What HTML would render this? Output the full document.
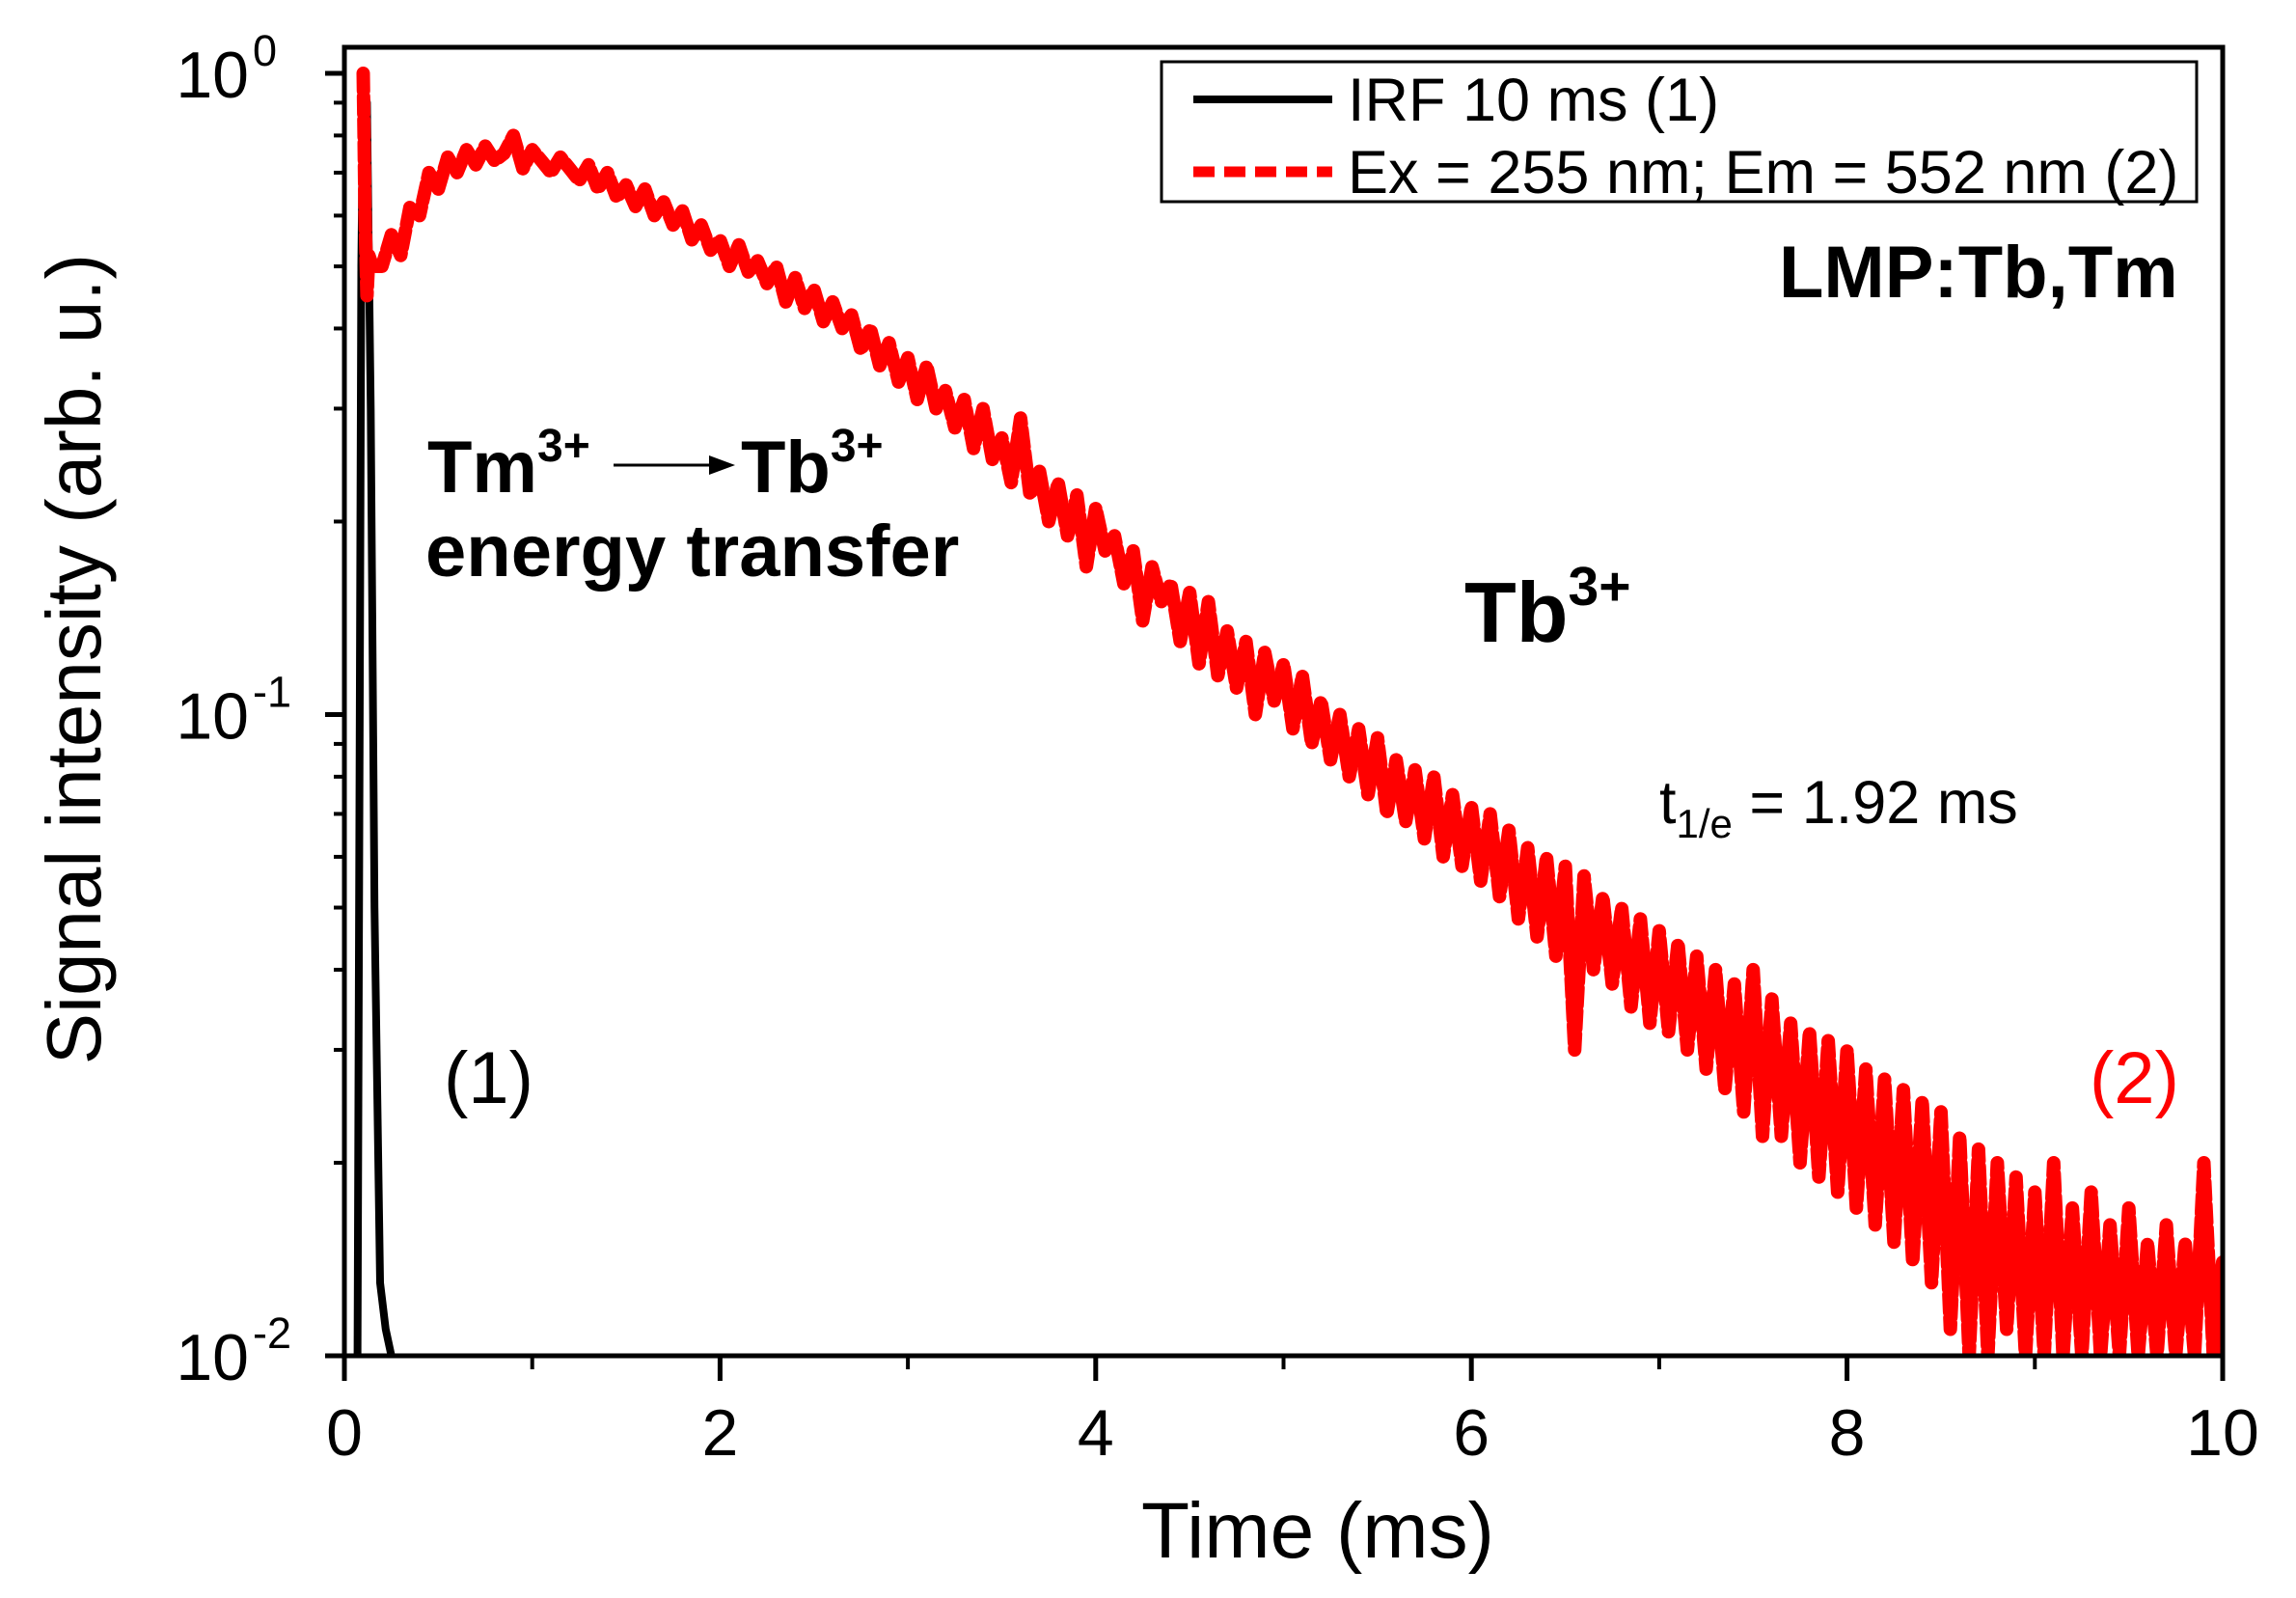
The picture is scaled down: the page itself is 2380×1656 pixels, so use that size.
<!DOCTYPE html>
<html><head><meta charset="utf-8"><style>
html,body{margin:0;padding:0;background:#fff;}
svg{display:block;font-family:"Liberation Sans",Arial,sans-serif;}
</style></head><body>
<svg id="chart" width="2380" height="1656" viewBox="0 0 2380 1656" xmlns="http://www.w3.org/2000/svg">
<g id="marks"></g>
<g id="axes"></g>
<text x="83" y="683" font-size="80" text-anchor="middle" transform="rotate(-90 83 683)" dominant-baseline="middle">Signal intensity (arb. u.)</text>
<text x="1366" y="1614" font-size="82" text-anchor="middle">Time (ms)</text>
<g>
<rect x="1204" y="64" width="1073" height="145" fill="#fff" stroke="#000" stroke-width="3"/>
<line x1="1237" y1="103" x2="1381" y2="103" stroke="#000" stroke-width="8"/>
<text x="1397" y="125" font-size="63">IRF 10 ms (1)</text>
<line x1="1237" y1="178" x2="1381" y2="178" stroke="#f00" stroke-width="11" stroke-dasharray="22 10"/>
<text x="1397" y="200" font-size="63">Ex = 255 nm; Em = 552 nm (2)</text>
</g>
<text x="1844" y="308" font-size="76" font-weight="bold">LMP:Tb,Tm</text>
<g>
<text x="443" y="510" font-size="76" font-weight="bold">Tm<tspan dy="-32" font-size="48">3+</tspan></text>
<line x1="636" y1="482" x2="738" y2="482" stroke="#000" stroke-width="3"/>
<polygon points="735,472 762,482 735,492" fill="#000"/>
<text x="768" y="510" font-size="76" font-weight="bold">Tb<tspan dy="-32" font-size="48">3+</tspan></text>
<text x="441" y="597" font-size="76" font-weight="bold">energy transfer</text>
</g>
<text x="1518" y="665" font-size="88" font-weight="bold">Tb<tspan dy="-38" font-size="57">3+</tspan></text>
<text x="1720" y="853" font-size="63">t<tspan dy="15" font-size="42">1/e</tspan><tspan dy="-15"> = 1.92 ms</tspan></text>
<text x="460" y="1143" font-size="76">(1)</text>
<text x="2166" y="1143" font-size="76" fill="#f00">(2)</text>
</svg>
<script>
const xTicks = [0, 2, 4, 6, 8, 10];
const xMinor = [1, 3, 5, 7, 9];
const yDecades = [0, -1, -2];
const irfT = [0.07, 0.09, 0.10, 0.12, 0.14, 0.16, 0.19, 0.22, 0.25];
const irfV = [0.01, 0.5, 0.95, 0.9, 0.3, 0.05, 0.013, 0.011, 0.01];
const spikeT = [0.10, 0.105, 0.11, 0.12, 0.13, 0.15];
const spikeV = [1.0, 0.8, 0.6, 0.45, 0.52, 0.50];
const sigT0 = 0.15, sigDt = 0.05;
const sigV = [
0.50,0.56,0.52,0.62,0.60,0.70,0.66,0.74,0.70,0.76,
0.72,0.77,0.73,0.75,0.80,0.71,0.76,0.73,0.70,0.74,
0.71,0.68,0.72,0.66,0.70,0.64,0.67,0.62,0.66,0.60,
0.63,0.58,0.61,0.55,0.58,0.53,0.55,0.50,0.54,0.49,
0.51,0.47,0.50,0.44,0.48,0.43,0.46,0.41,0.44,0.40,
0.42,0.37,0.40,0.35,0.38,0.33,0.36,0.31,0.35,0.30,
0.32,0.28,0.31,0.26,0.30,0.25,0.27,0.23,0.29,0.22,
0.24,0.20,0.23,0.19,0.22,0.17,0.21,0.18,0.19,0.16,
0.18,0.14,0.17,0.15,0.16,0.13,0.155,0.12,0.15,0.115,
0.135,0.11,0.13,0.10,0.125,0.105,0.12,0.095,0.115,0.09,
0.105,0.085,0.10,0.08,0.095,0.075,0.092,0.07,0.085,0.068,
0.082,0.064,0.08,0.06,0.075,0.058,0.072,0.055,0.07,0.052,
0.066,0.048,0.062,0.045,0.06,0.042,0.058,0.03,0.056,0.04,
0.052,0.038,0.05,0.035,0.048,0.033,0.046,0.032,0.044,0.03,
0.042,0.028,0.04,0.026,0.038,0.024,0.04,0.022,0.036,0.022,
0.033,0.02,0.032,0.019,0.031,0.018,0.03,0.017,0.028,0.016,
0.027,0.015,0.026,0.014,0.025,0.013,0.024,0.011,0.022,0.01,
0.021,0.01,0.02,0.011,0.019,0.009,0.018,0.01,0.02,0.009,
0.017,0.009,0.018,0.01,0.016,0.008,0.017,0.009,0.015,0.009,
0.016,0.009,0.015,0.008,0.02,0.01,0.014,0.009
];
const NS = "http://www.w3.org/2000/svg";
const L = 357, R = 2304, T = 49, B = 1405;
const yTop = 76, decPx = 664.5;
function sx(t){ return L + (R - L) * t / 10; }
function sy(v){ const lv = Math.log10(Math.max(v, 0.0095)); return Math.min(B, yTop - lv * decPx); }
function mk(tag, attrs, parent){ const e = document.createElementNS(NS, tag); for (const k in attrs) e.setAttribute(k, attrs[k]); parent.appendChild(e); return e; }
const marks = document.getElementById('marks');
const axes = document.getElementById('axes');
const defs = mk('defs', {}, marks);
const cp = mk('clipPath', {id: 'clip'}, defs);
mk('rect', {x: L, y: T, width: R - L, height: B - T}, cp);
let d = irfT.map((t, i) => (i ? 'L' : 'M') + sx(t).toFixed(1) + ' ' + sy(irfV[i]).toFixed(1)).join(' ');
const irf = mk('path', {d: d, fill: 'none', stroke: '#000', 'stroke-width': 8, 'clip-path': 'url(#clip)'}, marks);


const pts = [];
spikeT.forEach((t, i) => pts.push([sx(t), sy(spikeV[i])]));
sigV.forEach((v, i) => pts.push([sx(sigT0 + sigDt * (i + 1)), sy(v)]));
d = pts.map((p, i) => (i ? 'L' : 'M') + p[0].toFixed(1) + ' ' + p[1].toFixed(1)).join(' ');
const sig = mk('path', {d: d, fill: 'none', stroke: '#f00', 'stroke-width': 14, 'stroke-dasharray': '18 6', 'stroke-linecap': 'round', 'stroke-linejoin': 'round', 'clip-path': 'url(#clip)'}, marks);


const fr = mk('rect', {x: L, y: T, width: R - L, height: B - T, fill: 'none', stroke: '#000', 'stroke-width': 5}, axes);


xTicks.forEach(t => {
  const ln = mk('line', {x1: sx(t), x2: sx(t), y1: B, y2: B + 26, stroke: '#000', 'stroke-width': 5}, axes);
  
  
  const tx = mk('text', {x: sx(t), y: 1508, 'font-size': 68, 'text-anchor': 'middle'}, axes);
  tx.textContent = t;
  
  
});
xMinor.forEach(t => {
  const ln = mk('line', {x1: sx(t), x2: sx(t), y1: B, y2: B + 14, stroke: '#000', 'stroke-width': 4}, axes);
  
  
});
yDecades.forEach(k => {
  const y = sy(Math.pow(10, k));
  const ln = mk('line', {x1: L - 20, x2: L, y1: y, y2: y, stroke: '#000', 'stroke-width': 5}, axes);
  
  
  const tx = mk('text', {x: 258, y: y + 25, 'font-size': 68, 'text-anchor': 'end'}, axes);
  tx.textContent = '10';
  
  
  const sup = mk('text', {x: 262, y: y - 8, 'font-size': 45}, axes);
  sup.textContent = String(k);
  
  
  if (k > -2) for (let m = 2; m <= 9; m++) {
    const yy = sy(m * Math.pow(10, k - 1));
    const mn = mk('line', {x1: L - 11, x2: L, y1: yy, y2: yy, stroke: '#000', 'stroke-width': 4}, axes);
    
    
  }
});
</script>
</body></html>
